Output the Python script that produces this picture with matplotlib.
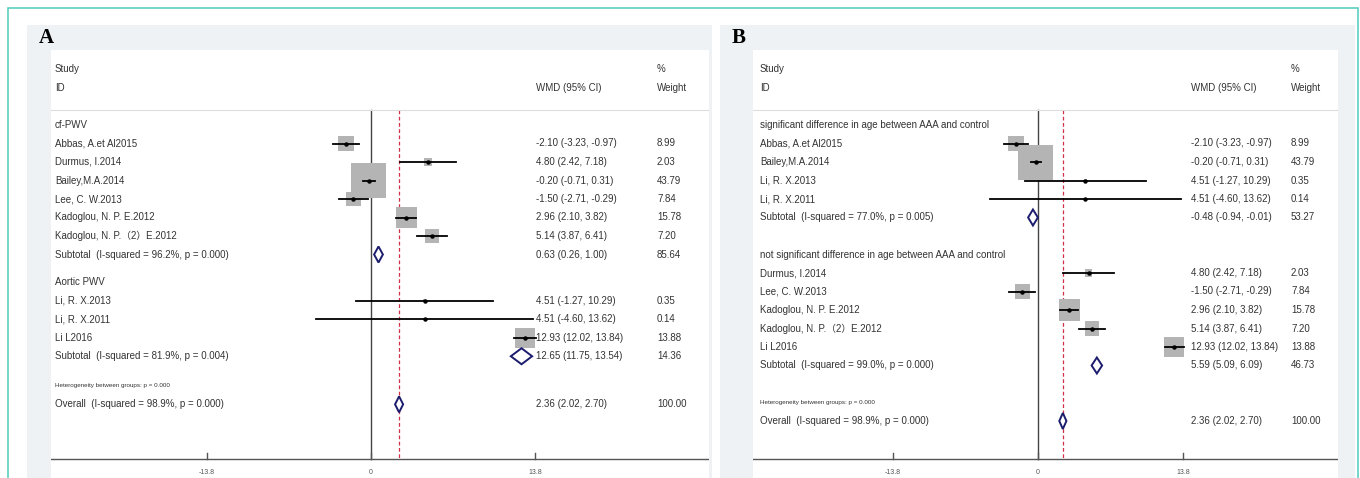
import matplotlib.pyplot as plt
import matplotlib.patches as mpatches

plt.rcParams['font.family'] = ['Liberation Sans', 'Noto Sans CJK SC', 'DejaVu Sans']

W, H = 1360, 478

# ---- data: panel A ----
a_groups = ["cf-PWV", "Aortic PWV"]
a_studies = [
    ["Abbas, A.et Al2015", "Durmus, I.2014", "Bailey,M.A.2014", "Lee, C. W.2013",
     "Kadoglou, N. P. E.2012", "Kadoglou, N. P.（2）E.2012"],
    ["Li, R. X.2013", "Li, R. X.2011", "Li L2016"],
]
a_est = [[-2.10, 4.80, -0.20, -1.50, 2.96, 5.14], [4.51, 4.51, 12.93]]
a_lo = [[-3.23, 2.42, -0.71, -2.71, 2.10, 3.87], [-1.27, -4.60, 12.02]]
a_hi = [[-0.97, 7.18, 0.31, -0.29, 3.82, 6.41], [10.29, 13.62, 13.84]]
a_wt = [[8.99, 2.03, 43.79, 7.84, 15.78, 7.20], [0.35, 0.14, 13.88]]
a_sub_lab = ["Subtotal  (I-squared = 96.2%, p = 0.000)", "Subtotal  (I-squared = 81.9%, p = 0.004)"]
a_sub = [(0.63, 0.26, 1.00, 85.64), (12.65, 11.75, 13.54, 14.36)]

# ---- data: panel B ----
b_groups = ["significant difference in age between AAA and control",
            "not significant difference in age between AAA and control"]
b_studies = [
    ["Abbas, A.et Al2015", "Bailey,M.A.2014", "Li, R. X.2013", "Li, R. X.2011"],
    ["Durmus, I.2014", "Lee, C. W.2013", "Kadoglou, N. P. E.2012",
     "Kadoglou, N. P.（2）E.2012", "Li L2016"],
]
b_est = [[-2.10, -0.20, 4.51, 4.51], [4.80, -1.50, 2.96, 5.14, 12.93]]
b_lo = [[-3.23, -0.71, -1.27, -4.60], [2.42, -2.71, 2.10, 3.87, 12.02]]
b_hi = [[-0.97, 0.31, 10.29, 13.62], [7.18, -0.29, 3.82, 6.41, 13.84]]
b_wt = [[8.99, 43.79, 0.35, 0.14], [2.03, 7.84, 15.78, 7.20, 13.88]]
b_sub_lab = ["Subtotal  (I-squared = 77.0%, p = 0.005)", "Subtotal  (I-squared = 99.0%, p = 0.000)"]
b_sub = [(-0.48, -0.94, -0.01, 53.27), (5.59, 5.09, 6.09, 46.73)]

overall = (2.36, 2.02, 2.70, 100.00)
overall_lab = "Overall  (I-squared = 98.9%, p = 0.000)"
het_lab = "Heterogeneity between groups: p = 0.000"
ticks = [-13.8, 0, 13.8]

fig = plt.figure(figsize=(W / 100, H / 100), dpi=100)


def bg(x0, y0, x1, y1, **kw):
    fig.patches.append(mpatches.Rectangle((x0 / W, 1 - y1 / H), (x1 - x0) / W, (y1 - y0) / H,
                                          transform=fig.transFigure, zorder=-5, **kw))


bg(8, 8, 1358, 490, facecolor='white', edgecolor='#5ccfc0', lw=1.2)


def panel(letter, outer, white, zero, scale, groups, studies, est, lo, hi, wt, sub_lab, sub,
          row0, step, gap, het_gap, txt_x, wmd_x, wt_x):
    ox0, ox1 = outer
    bg(ox0, 25, ox1, 478, facecolor='#eef2f4', lw=0)
    l, r = white
    bg(l, 50, r, 478, facecolor='white', lw=0)
    fig.text((ox0 + 12) / W, 1 - 38 / H, letter, fontsize=15, fontweight='bold',
             family='Liberation Serif', va='center')
    ax = fig.add_axes([l / W, 0, (r - l) / W, 1 - 50 / H])
    ax.set_xlim((l - zero) / scale, (r - zero) / scale)
    ax.set_ylim(H, 50)
    ax.axis('off')
    px = lambda p: (p - zero) / scale
    fs = 7
    c = '#333333'
    ax.text(px(txt_x), 69, "Study", fontsize=fs, va='center', color=c)
    ax.text(px(txt_x), 88, "ID", fontsize=fs, va='center', color=c)
    ax.text(px(wmd_x), 88, "WMD (95% CI)", fontsize=fs, va='center', color=c)
    ax.text(px(wt_x), 69, "%", fontsize=fs, va='center', color=c)
    ax.text(px(wt_x), 88, "Weight", fontsize=fs, va='center', color=c)
    ax.plot([px(l), px(r)], [110, 110], color='#dddddd', lw=0.8)

    def diamond(y, e, lo_, hi_):
        ax.add_patch(mpatches.Polygon([(lo_, y), (e, y - 8), (hi_, y), (e, y + 8)],
                                      closed=True, facecolor='white', edgecolor='#1c1c6e', lw=1.4, zorder=4))

    y = row0
    for g in range(len(groups)):
        ax.text(px(txt_x), y, groups[g], fontsize=fs, va='center', color=c)
        y += step
        for i in range(len(studies[g])):
            side = 35 * (wt[g][i] / 43.79) ** 0.5
            ax.add_patch(mpatches.Rectangle((est[g][i] - side / scale / 2, y - side / 2), side / scale, side,
                                            facecolor='#b4b4b4', lw=0, zorder=2))
            ax.plot([lo[g][i], hi[g][i]], [y, y], color='black', lw=1.3, zorder=3)
            ax.plot(est[g][i], y, 'o', color='black', ms=2.2, zorder=3)
            ax.text(px(txt_x), y, studies[g][i], fontsize=fs, va='center', color=c)
            ax.text(px(wmd_x), y, f"{est[g][i]:.2f} ({lo[g][i]:.2f}, {hi[g][i]:.2f})",
                    fontsize=fs, va='center', color=c)
            ax.text(px(wt_x), y, f"{wt[g][i]:.2f}", fontsize=fs, va='center', color=c)
            y += step
        e, lo_, hi_, w = sub[g]
        diamond(y, e, lo_, hi_)
        ax.text(px(txt_x), y, sub_lab[g], fontsize=fs, va='center', color=c)
        ax.text(px(wmd_x), y, f"{e:.2f} ({lo_:.2f}, {hi_:.2f})", fontsize=fs, va='center', color=c)
        ax.text(px(wt_x), y, f"{w:.2f}", fontsize=fs, va='center', color=c)
        if g < len(groups) - 1:
            y += step * gap
    y += step * het_gap
    ax.text(px(txt_x), y, het_lab, fontsize=4.5, va='center', color=c)
    y += step
    e, lo_, hi_, w = overall
    diamond(y, e, lo_, hi_)
    ax.text(px(txt_x), y, overall_lab, fontsize=fs, va='center', color=c)
    ax.text(px(wmd_x), y, f"{e:.2f} ({lo_:.2f}, {hi_:.2f})", fontsize=fs, va='center', color=c)
    ax.text(px(wt_x), y, f"{w:.2f}", fontsize=fs, va='center', color=c)

    ax.plot([0, 0], [110, 459], color='#444444', lw=1.0, zorder=1)
    ax.plot([e, e], [110, 459], color='#d03048', lw=0.9, ls=(0, (3, 2)), zorder=1)
    ax.plot([px(l), px(r)], [459, 459], color='#555555', lw=1.0)
    for t in ticks:
        ax.plot([t, t], [459, 453], color='#555555', lw=1.0)
        ax.text(t, 473, f"{t:g}", fontsize=5, ha='center', va='center', color='#555555')


panel("A", (27, 712), (51, 709), 371, 11.9, a_groups, a_studies, a_est, a_lo, a_hi, a_wt,
      a_sub_lab, a_sub, 125, 18.5, 1.5, 1.6, 55, 536, 657)
panel("B", (720, 1355), (753, 1338), 1038, 10.53, b_groups, b_studies, b_est, b_lo, b_hi, b_wt,
      b_sub_lab, b_sub, 125, 18.5, 2.0, 2.0, 760, 1191, 1291)

fig.savefig("out.png", dpi=100)
